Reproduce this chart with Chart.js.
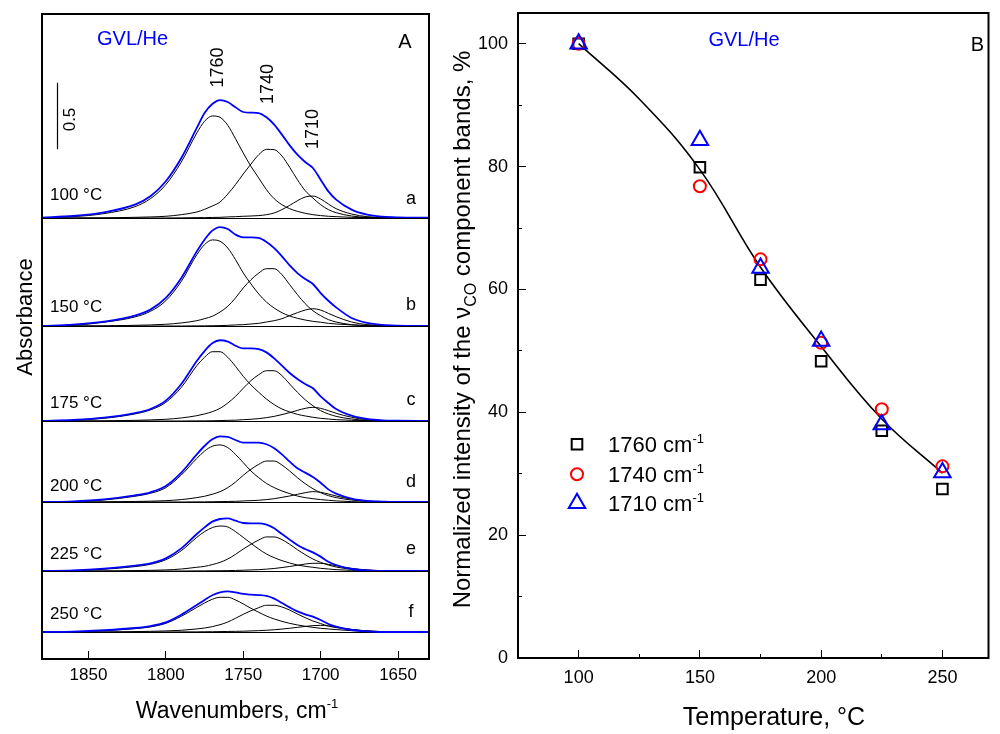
<!DOCTYPE html>
<html>
<head>
<meta charset="utf-8">
<script src="https://cdn.jsdelivr.net/npm/chart.js@4.4.0/dist/chart.umd.min.js"></script>
<style>
  html, body { margin: 0; padding: 0; background: #fff; }
  #wrap { position: relative; width: 1000px; height: 734px; overflow: hidden; }
  #spectra { position: absolute; left: 0; top: 0; }
  #decay { position: absolute; left: 440px; top: 0; }
</style>
</head>
<body>
<div id="wrap">
  <canvas id="spectra" width="440" height="734"></canvas>
  <canvas id="decay" width="560" height="734"></canvas>
</div>
<script>
// ---- panel A data: absorbance (cm-1) ----
const wavenumbers = [1880, 1860, 1840, 1820, 1810, 1800, 1790, 1780, 1775, 1770, 1765, 1760, 1755, 1750, 1745, 1740,
  1735, 1730, 1725, 1720, 1715, 1710, 1705, 1700, 1695, 1690, 1680, 1670, 1660, 1650, 1630];
const wnTicks = [1850, 1800, 1750, 1700, 1650];
const bandNames = ['1760', '1740', '1710'];
const bandPos = [1766, 1734, 1705];
const tempLabels = ['100 °C', '150 °C', '175 °C', '200 °C', '225 °C', '250 °C'];
const panelLetters = ['a', 'b', 'c', 'd', 'e', 'f'];

const env100 = [0.003, 0.015, 0.043, 0.100, 0.163, 0.276, 0.451, 0.677, 0.789, 0.857, 0.887, 0.872, 0.832, 0.797, 0.792, 0.789, 0.757, 0.702, 0.627, 0.546, 0.476, 0.421, 0.376, 0.288, 0.200, 0.138, 0.063, 0.025, 0.010, 0.005, 0.003];
const b1760_100 = [0.003, 0.010, 0.033, 0.085, 0.145, 0.251, 0.421, 0.639, 0.727, 0.767, 0.757, 0.697, 0.596, 0.489, 0.388, 0.301, 0.213, 0.145, 0.100, 0.070, 0.050, 0.035, 0.025, 0.018, 0.013, 0.010, 0.005, 0.003, 0.001, 0, 0];
const b1740_100 = [0, 0, 0.001, 0.005, 0.008, 0.013, 0.025, 0.045, 0.065, 0.090, 0.120, 0.180, 0.251, 0.331, 0.406, 0.476, 0.516, 0.514, 0.466, 0.381, 0.288, 0.206, 0.150, 0.100, 0.063, 0.040, 0.015, 0.005, 0.003, 0, 0];
const b1710_100 = [0, 0, 0, 0, 0, 0, 0.001, 0.003, 0.003, 0.004, 0.005, 0.008, 0.010, 0.013, 0.015, 0.018, 0.025, 0.038, 0.063, 0.095, 0.130, 0.158, 0.165, 0.143, 0.105, 0.070, 0.030, 0.010, 0.003, 0, 0];

const env150 = [0, 0.010, 0.033, 0.078, 0.123, 0.211, 0.361, 0.561, 0.649, 0.717, 0.744, 0.729, 0.687, 0.667, 0.667, 0.662, 0.632, 0.586, 0.524, 0.456, 0.398, 0.353, 0.316, 0.248, 0.190, 0.140, 0.060, 0.023, 0.008, 0.003, 0];
const b1760_150 = [0, 0.005, 0.028, 0.068, 0.110, 0.190, 0.336, 0.536, 0.612, 0.647, 0.637, 0.586, 0.499, 0.399, 0.316, 0.241, 0.180, 0.135, 0.100, 0.075, 0.058, 0.045, 0.035, 0.028, 0.020, 0.015, 0.008, 0.003, 0, 0, 0];
const b1740_150 = [0, 0, 0.001, 0.005, 0.008, 0.013, 0.023, 0.040, 0.055, 0.073, 0.105, 0.148, 0.211, 0.286, 0.348, 0.398, 0.431, 0.431, 0.386, 0.311, 0.236, 0.168, 0.115, 0.078, 0.048, 0.030, 0.010, 0.003, 0, 0, 0];
const b1710_150 = [0, 0, 0, 0, 0, 0, 0, 0.001, 0.001, 0.002, 0.003, 0.005, 0.008, 0.010, 0.015, 0.020, 0.030, 0.040, 0.055, 0.078, 0.100, 0.120, 0.130, 0.120, 0.095, 0.070, 0.030, 0.010, 0.003, 0, 0];

const env175 = [0, 0.008, 0.025, 0.060, 0.090, 0.153, 0.278, 0.451, 0.526, 0.584, 0.607, 0.597, 0.566, 0.546, 0.546, 0.541, 0.516, 0.471, 0.416, 0.361, 0.316, 0.278, 0.246, 0.185, 0.135, 0.090, 0.040, 0.015, 0.005, 0.003, 0];
const b1760_175 = [0, 0.005, 0.020, 0.053, 0.083, 0.140, 0.253, 0.416, 0.479, 0.521, 0.521, 0.479, 0.411, 0.336, 0.271, 0.216, 0.165, 0.123, 0.090, 0.068, 0.050, 0.038, 0.028, 0.020, 0.015, 0.010, 0.005, 0.003, 0, 0, 0];
const b1740_175 = [0, 0, 0.001, 0.005, 0.008, 0.013, 0.023, 0.040, 0.053, 0.070, 0.095, 0.135, 0.185, 0.246, 0.304, 0.348, 0.378, 0.378, 0.341, 0.278, 0.216, 0.160, 0.115, 0.078, 0.053, 0.035, 0.015, 0.005, 0.003, 0, 0];
const b1710_175 = [0, 0, 0, 0, 0, 0, 0, 0.001, 0.001, 0.002, 0.003, 0.005, 0.006, 0.010, 0.013, 0.018, 0.025, 0.035, 0.048, 0.063, 0.080, 0.095, 0.103, 0.095, 0.078, 0.058, 0.028, 0.010, 0.003, 0, 0];

const env200 = [0, 0.005, 0.020, 0.050, 0.073, 0.120, 0.221, 0.358, 0.421, 0.471, 0.494, 0.489, 0.466, 0.446, 0.446, 0.446, 0.434, 0.404, 0.358, 0.303, 0.253, 0.221, 0.188, 0.145, 0.095, 0.063, 0.025, 0.008, 0.003, 0, 0];
const b1760_200 = [0, 0.003, 0.015, 0.043, 0.065, 0.108, 0.203, 0.328, 0.383, 0.419, 0.429, 0.409, 0.358, 0.296, 0.233, 0.183, 0.140, 0.108, 0.083, 0.063, 0.045, 0.033, 0.025, 0.018, 0.013, 0.008, 0.003, 0, 0, 0, 0];
const b1740_200 = [0, 0, 0.001, 0.004, 0.006, 0.010, 0.018, 0.033, 0.043, 0.058, 0.078, 0.108, 0.150, 0.201, 0.246, 0.283, 0.308, 0.308, 0.278, 0.233, 0.183, 0.138, 0.100, 0.070, 0.048, 0.033, 0.015, 0.005, 0.003, 0, 0];
const b1710_200 = [0, 0, 0, 0, 0, 0, 0, 0.001, 0.001, 0.002, 0.003, 0.004, 0.005, 0.008, 0.010, 0.013, 0.018, 0.025, 0.035, 0.045, 0.058, 0.070, 0.078, 0.073, 0.060, 0.045, 0.022, 0.008, 0.003, 0, 0];

const env225 = [0, 0.005, 0.018, 0.040, 0.058, 0.095, 0.170, 0.278, 0.328, 0.371, 0.391, 0.396, 0.378, 0.361, 0.358, 0.358, 0.348, 0.321, 0.278, 0.236, 0.195, 0.165, 0.140, 0.108, 0.070, 0.045, 0.015, 0.005, 0, 0, 0];
const b1760_225 = [0, 0.003, 0.013, 0.033, 0.050, 0.085, 0.153, 0.253, 0.296, 0.326, 0.338, 0.331, 0.296, 0.253, 0.208, 0.165, 0.128, 0.100, 0.078, 0.060, 0.045, 0.035, 0.028, 0.020, 0.015, 0.010, 0.005, 0.003, 0, 0, 0];
const b1740_225 = [0, 0, 0, 0.003, 0.005, 0.008, 0.015, 0.028, 0.035, 0.048, 0.065, 0.090, 0.125, 0.165, 0.201, 0.233, 0.256, 0.256, 0.236, 0.201, 0.160, 0.123, 0.090, 0.065, 0.045, 0.030, 0.013, 0.005, 0.001, 0, 0];
const b1710_225 = [0, 0, 0, 0, 0, 0, 0, 0.001, 0.001, 0.002, 0.002, 0.003, 0.004, 0.006, 0.008, 0.010, 0.014, 0.019, 0.026, 0.034, 0.043, 0.052, 0.058, 0.058, 0.050, 0.040, 0.020, 0.008, 0.003, 0, 0];

const env250 = [0, 0.003, 0.013, 0.030, 0.045, 0.073, 0.130, 0.203, 0.241, 0.276, 0.298, 0.306, 0.298, 0.286, 0.281, 0.278, 0.271, 0.251, 0.218, 0.185, 0.155, 0.133, 0.115, 0.090, 0.060, 0.040, 0.015, 0.005, 0, 0, 0];
const b1760_250 = [0, 0.001, 0.010, 0.025, 0.038, 0.065, 0.118, 0.185, 0.218, 0.246, 0.261, 0.261, 0.241, 0.211, 0.178, 0.148, 0.120, 0.098, 0.080, 0.065, 0.053, 0.043, 0.035, 0.028, 0.023, 0.018, 0.010, 0.005, 0.001, 0, 0];
const b1740_250 = [0, 0, 0, 0.003, 0.005, 0.008, 0.013, 0.023, 0.030, 0.040, 0.055, 0.075, 0.103, 0.133, 0.160, 0.183, 0.201, 0.201, 0.188, 0.165, 0.135, 0.108, 0.083, 0.063, 0.045, 0.033, 0.018, 0.008, 0.003, 0, 0];
const b1710_250 = [0, 0, 0, 0, 0, 0, 0.001, 0.001, 0.002, 0.002, 0.003, 0.004, 0.005, 0.006, 0.008, 0.010, 0.013, 0.017, 0.022, 0.028, 0.035, 0.042, 0.048, 0.050, 0.046, 0.038, 0.020, 0.008, 0.003, 0, 0];

// ---- panel B data: normalized intensities, % ----
const temperature = [100, 150, 175, 200, 225, 250];
const int1760 = [100, 79.9, 61.6, 48.3, 37.0, 27.5];
const int1740 = [100, 76.8, 64.9, 51.3, 40.5, 31.2];
const int1710 = [100, 84.3, 63.5, 51.6, 38.0, 30.2];
const fitT = [100, 125, 150, 175, 200, 225, 250];
const fitI = [100, 91, 79.5, 63.6, 50.7, 38.9, 30.1];
const tempTicks = [100, 150, 200, 250];
const tempMinor = [100, 125, 150, 175, 200, 225, 250];
const intTicks = [0, 20, 40, 60, 80, 100];
const intMinor = [0, 10, 20, 30, 40, 50, 60, 70, 80, 90, 100];

// ---- layout ----
const FONT = '"Liberation Sans", Arial, Helvetica, sans-serif';
Chart.defaults.font.family = FONT;
Chart.defaults.color = '#000';
const BLUE = '#0000ff';
const panelPx = [204, 108, 95, 81, 69, 88];  // heights of the stacked sub-panels
const bottomGap = 27;                          // empty strip under the 250 °C trace
const pxPerAbs = 133;
const tempDy = [-23, -19, -18, -16, -17, -18];
const letterDy = [-19, -21, -21, -20, -22, -20];

const spectra = [
  { env: env100, bands: [b1760_100, b1740_100, b1710_100] },
  { env: env150, bands: [b1760_150, b1740_150, b1710_150] },
  { env: env175, bands: [b1760_175, b1740_175, b1710_175] },
  { env: env200, bands: [b1760_200, b1740_200, b1710_200] },
  { env: env225, bands: [b1760_225, b1740_225, b1710_225] },
  { env: env250, bands: [b1760_250, b1740_250, b1710_250] }
];

// fixed axis box size, so the chart area is set by the layout padding
function fitTo(size) {
  return function (s) {
    if (s.isHorizontal()) s.height = size; else s.width = size;
    s.paddingLeft = s.paddingRight = s.paddingTop = s.paddingBottom = 0;
  };
}
function fixTicks(values) {
  return function (s) { s.ticks = values.map(v => ({ value: v })); };
}
function plain(v) { return String(v); }
function toXY(xs, ys) {
  return xs.map((x, i) => ({ x: x, y: ys[i] }));
}
function font(size) { return size + 'px ' + FONT; }

function richText(ctx, parts, x, y, align) {
  let w = 0;
  parts.forEach(p => { ctx.font = font(p[1]); w += ctx.measureText(p[0]).width; });
  let cx = align === 'center' ? x - w / 2 : x;
  ctx.textAlign = 'left';
  ctx.textBaseline = 'alphabetic';
  parts.forEach(p => {
    ctx.font = font(p[1]);
    ctx.fillText(p[0], cx, y + (p[2] || 0));
    cx += ctx.measureText(p[0]).width;
  });
}

const framePlugin = {
  id: 'frame',
  afterDatasetsDraw(chart) {
    const a = chart.chartArea, ctx = chart.ctx;
    ctx.save();
    ctx.strokeStyle = '#000';
    ctx.lineWidth = 2;
    ctx.strokeRect(a.left, a.top, a.right - a.left, a.bottom - a.top);
    ctx.restore();
  }
};

// ---- panel A ----
const scalesA = {
  x: {
    type: 'linear', position: 'bottom', reverse: true, min: 1630, max: 1880,
    afterBuildTicks: fixTicks(wnTicks), afterFit: fitTo(45),
    grid: { drawOnChartArea: false, tickLength: -8, color: '#000', lineWidth: 1 },
    border: { display: false },
    ticks: { padding: 14, font: { size: 17 }, color: '#000', callback: plain }
  }
};
// bottom panel first: later stacked axes are placed above earlier ones
for (let i = spectra.length - 1; i >= 0; i--) {
  const last = i === spectra.length - 1;
  scalesA['y' + i] = {
    type: 'linear', position: 'left', stack: 'spec', stackWeight: panelPx[i],
    min: last ? -bottomGap / pxPerAbs : 0,
    max: (last ? panelPx[i] - bottomGap : panelPx[i]) / pxPerAbs,
    afterBuildTicks: fixTicks([0]), afterFit: fitTo(0),
    ticks: { display: false },
    border: { display: false },
    grid: { drawTicks: false, color: '#000', lineWidth: 1 }
  };
}

const datasetsA = [];
spectra.forEach((s, i) => {
  datasetsA.push({ data: toXY(wavenumbers, s.env), yAxisID: 'y' + i, borderColor: BLUE, borderWidth: 1.8, order: 0 });
  s.bands.forEach(b => {
    datasetsA.push({ data: toXY(wavenumbers, b), yAxisID: 'y' + i, borderColor: '#000', borderWidth: 1, order: 1 });
  });
});
datasetsA.forEach(d => {
  d.pointRadius = 0;
  d.fill = false;
  d.cubicInterpolationMode = 'monotone';
});

const labelsA = {
  id: 'labelsA',
  afterDraw(chart) {
    const ctx = chart.ctx, xs = chart.scales.x, ya = chart.scales.y0;
    ctx.save();
    ctx.fillStyle = BLUE;
    ctx.font = font(20);
    ctx.textAlign = 'left';
    ctx.textBaseline = 'alphabetic';
    ctx.fillText('GVL/He', 97, 45);
    ctx.fillStyle = '#000';
    ctx.textAlign = 'center';
    ctx.fillText('A', 405, 48);

    // band position labels
    const bandY = [67.5, 84, 129];
    ctx.font = font(18);
    ctx.textBaseline = 'middle';
    bandNames.forEach((n, i) => {
      ctx.save();
      ctx.translate(xs.getPixelForValue(bandPos[i]), bandY[i]);
      ctx.rotate(-Math.PI / 2);
      ctx.fillText(n, 0, 0);
      ctx.restore();
    });

    // 0.5 absorbance scale bar
    ctx.strokeStyle = '#000';
    ctx.lineWidth = 1.2;
    ctx.beginPath();
    ctx.moveTo(57.5, ya.getPixelForValue(0.517));
    ctx.lineTo(57.5, ya.getPixelForValue(1.017));
    ctx.stroke();
    ctx.save();
    ctx.translate(70, 119.5);
    ctx.rotate(-Math.PI / 2);
    ctx.font = font(17);
    ctx.fillText('0.5', 0, 0);
    ctx.restore();

    // temperature and letter of each trace
    spectra.forEach((s, i) => {
      const y0 = chart.scales['y' + i].getPixelForValue(0);
      ctx.font = font(17);
      ctx.textAlign = 'left';
      ctx.fillText(tempLabels[i], 50, y0 + tempDy[i]);
      ctx.font = font(18);
      ctx.textAlign = 'center';
      ctx.fillText(panelLetters[i], 411, y0 + letterDy[i]);
    });

    // axis titles
    ctx.save();
    ctx.translate(31.5, 317);
    ctx.rotate(-Math.PI / 2);
    ctx.font = font(22);
    ctx.textAlign = 'center';
    ctx.textBaseline = 'alphabetic';
    ctx.fillText('Absorbance', 0, 0);
    ctx.restore();
    richText(ctx, [['Wavenumbers, cm', 23], ['-1', 13, -10]], 237, 718, 'center');
    ctx.restore();
  }
};

new Chart(document.getElementById('spectra'), {
  type: 'line',
  data: { datasets: datasetsA },
  options: {
    responsive: false, animation: false, events: [],
    layout: { padding: { left: 42, right: 11, top: 14, bottom: 30 } },
    scales: scalesA,
    plugins: { legend: { display: false }, tooltip: { enabled: false } }
  },
  plugins: [framePlugin, labelsA]
});

// ---- panel B ----
function axisOpts(extra) {
  return Object.assign({ type: 'linear', border: { display: false } }, extra);
}

const markers = [
  { label: '1760', data: int1760, style: 'rect', color: '#000', radius: 7.5 },
  { label: '1740', data: int1740, style: 'circle', color: '#ff0000', radius: 6 },
  { label: '1710', data: int1710, style: 'triangle', color: BLUE, radius: 9.5 }
];

const datasetsB = [{
  type: 'line', data: toXY(fitT, fitI), xAxisID: 'x', yAxisID: 'y',
  borderColor: '#000', borderWidth: 1.6, pointRadius: 0, fill: false, tension: 0.4, order: 5
}];
markers.forEach((m, i) => {
  datasetsB.push({
    type: 'scatter', data: toXY(temperature, m.data), xAxisID: 'x', yAxisID: 'y', showLine: false,
    pointStyle: m.style, pointRadius: m.radius,
    borderColor: m.color, pointBorderColor: m.color,
    backgroundColor: 'rgba(0,0,0,0)', pointBackgroundColor: 'rgba(0,0,0,0)',
    borderWidth: 2, pointBorderWidth: 2, order: 3 - i
  });
});

const labelsB = {
  id: 'labelsB',
  afterDraw(chart) {
    const ctx = chart.ctx;
    ctx.save();
    ctx.fillStyle = BLUE;
    ctx.font = font(20);
    ctx.textAlign = 'center';
    ctx.textBaseline = 'alphabetic';
    ctx.fillText('GVL/He', 304, 45.5);
    ctx.fillStyle = '#000';
    ctx.fillText('B', 537.5, 50.5);

    // legend
    const legY = [444.3, 474.3, 503.3];
    markers.forEach((m, i) => {
      ctx.strokeStyle = m.color;
      ctx.fillStyle = 'rgba(0,0,0,0)';
      ctx.lineWidth = 2;
      Chart.helpers.drawPoint(ctx, { pointStyle: m.style, radius: m.radius, rotation: 0, borderWidth: 2 }, 137, legY[i]);
      ctx.fillStyle = '#000';
      richText(ctx, [[m.label + ' cm', 22], ['-1', 13, -8.5]], 168, legY[i] + 7.5, 'left');
    });

    // axis titles
    richText(ctx, [['Temperature, °C', 25]], 334, 725, 'center');
    ctx.save();
    ctx.translate(30, 329.5);
    ctx.rotate(-Math.PI / 2);
    richText(ctx, [['Normalized intensity of the ν', 24], ['CO', 16, 6], [' component bands, %', 24]], 0, 0, 'center');
    ctx.restore();
    ctx.restore();
  }
};

new Chart(document.getElementById('decay'), {
  type: 'scatter',
  data: { datasets: datasetsB },
  options: {
    responsive: false, animation: false, events: [],
    layout: { padding: { left: 18, right: 4, top: 13, bottom: 31 } },
    scales: {
      // minor axes first: they sit next to the plot area, the labelled axes share that edge
      xMinor: axisOpts({
        position: 'bottom', min: 75, max: 269, afterBuildTicks: fixTicks(tempMinor), afterFit: fitTo(0),
        grid: { drawOnChartArea: false, tickLength: -4, color: '#000' },
        ticks: { display: false }
      }),
      yMinor: axisOpts({
        position: 'left', min: 0, max: 105, afterBuildTicks: fixTicks(intMinor), afterFit: fitTo(0),
        grid: { drawOnChartArea: false, tickLength: -4, color: '#000' },
        ticks: { display: false }
      }),
      x: axisOpts({
        position: 'bottom', min: 75, max: 269, afterBuildTicks: fixTicks(tempTicks), afterFit: fitTo(45),
        grid: { drawOnChartArea: false, tickLength: -8, color: '#000' },
        ticks: { padding: 17, font: { size: 18 }, color: '#000', callback: plain }
      }),
      y: axisOpts({
        position: 'left', min: 0, max: 105, afterBuildTicks: fixTicks(intTicks), afterFit: fitTo(60),
        grid: { drawOnChartArea: false, tickLength: -8, color: '#000' },
        ticks: { padding: 18, font: { size: 18 }, color: '#000', callback: plain }
      })
    },
    plugins: { legend: { display: false }, tooltip: { enabled: false } }
  },
  plugins: [framePlugin, labelsB]
});
</script>
</body>
</html>
